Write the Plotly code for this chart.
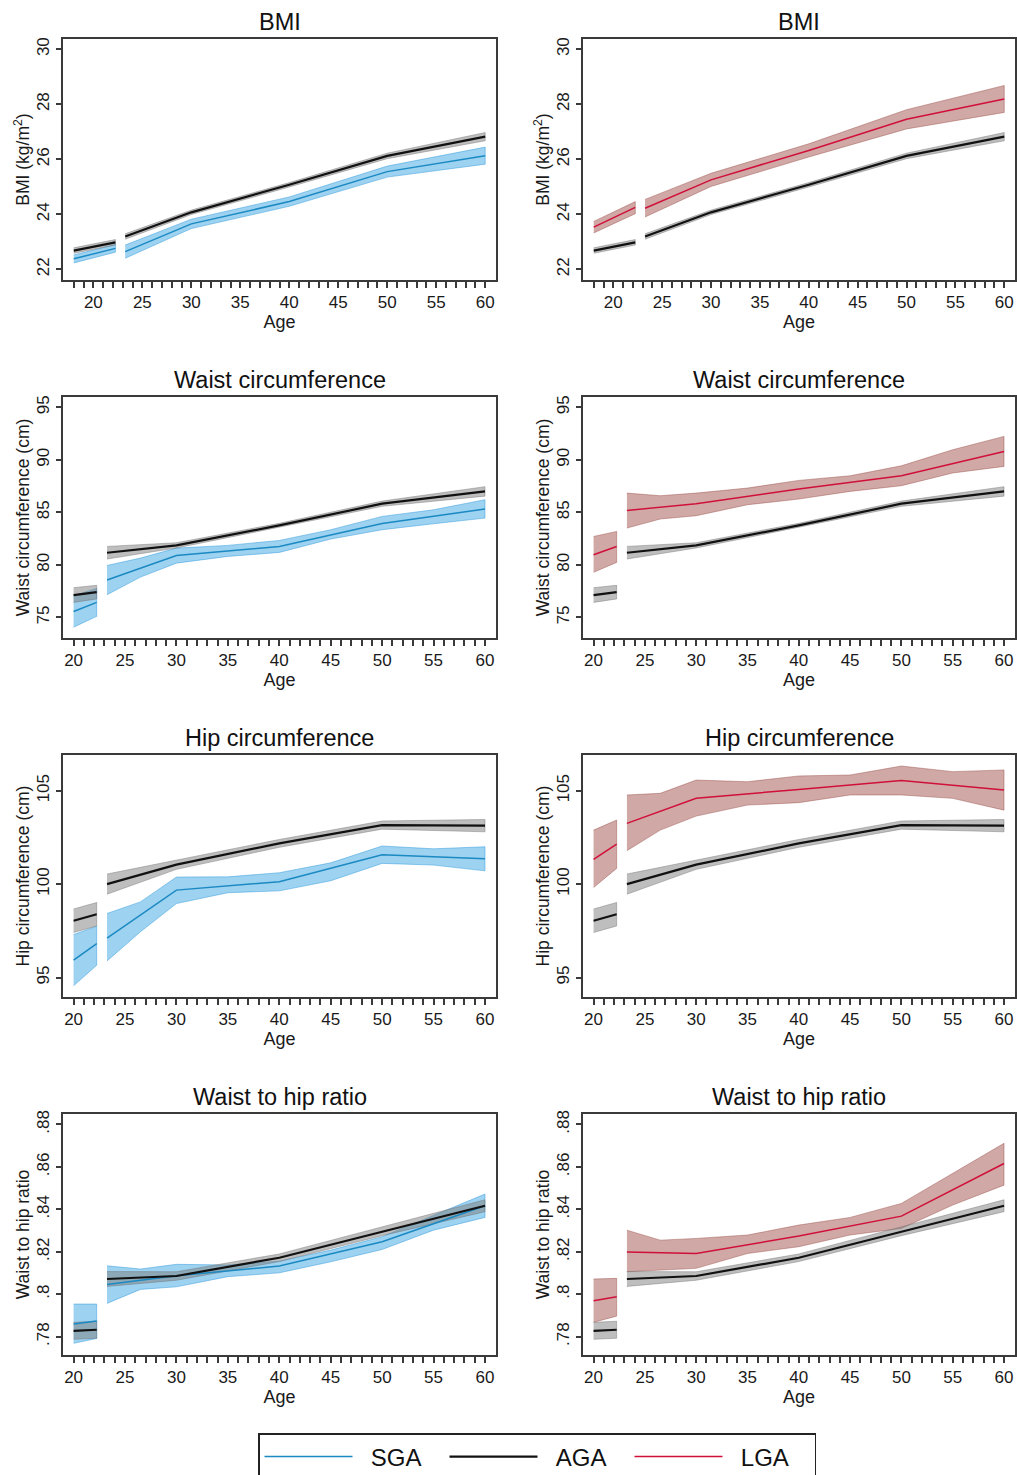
import plotly.graph_objects as go

# ---------------- data ----------------
AGE_SEG1_BMI = [18, 22.25]
AGE_SEG1 = [20, 22.25]
AGE_LINE = [23.25, 30, 40, 50, 60]
AGE_BAND = [23.25, 26.5, 30, 35, 40, 45, 50, 55, 60]

# BMI
BMI_AGA_S1 = [22.68, 22.98]; BMI_AGA_S1_LO = [22.58, 22.88]; BMI_AGA_S1_HI = [22.78, 23.08]
BMI_AGA = [23.19, 24.07, 25.07, 26.12, 26.82]
BMI_AGA_LO = [23.09, 23.99, 24.99, 26.02, 26.67]
BMI_AGA_HI = [23.29, 24.15, 25.15, 26.22, 26.97]
BMI_SGA_S1 = [22.38, 22.76]; BMI_SGA_S1_LO = [22.23, 22.62]; BMI_SGA_S1_HI = [22.52, 22.90]
BMI_SGA = [22.64, 23.65, 24.46, 25.55, 26.13]
BMI_SGA_LO = [22.40, 23.48, 24.29, 25.35, 25.82]
BMI_SGA_HI = [22.88, 23.82, 24.63, 25.75, 26.44]
BMI_LGA_S1 = [23.53, 24.25]; BMI_LGA_S1_LO = [23.32, 24.02]; BMI_LGA_S1_HI = [23.74, 24.46]
BMI_LGA = [24.22, 25.25, 26.32, 27.45, 28.19]
BMI_LGA_LO = [23.90, 25.01, 26.08, 27.10, 27.70]
BMI_LGA_HI = [24.54, 25.49, 26.56, 27.80, 28.68]

# Waist circumference
WC_AGA_S1 = [77.13, 77.41]; WC_AGA_S1_LO = [76.43, 76.76]; WC_AGA_S1_HI = [77.83, 78.06]
WC_AGA = [81.16, 81.86, 83.76, 85.83, 87.0]
WC_AGA_LO = [80.56, 81.61, 83.56, 85.58, 86.55]
WC_AGA_HI = [81.76, 82.11, 83.96, 86.08, 87.45]
WC_SGA_S1 = [75.57, 76.43]; WC_SGA_S1_LO = [74.07, 75.10]; WC_SGA_S1_HI = [77.07, 77.76]
WC_SGA = [78.56, 80.9, 81.76, 83.95, 85.32]
WC_SGA_LO = [77.16, 78.84, 80.17, 80.81, 81.19, 82.46, 83.35, 83.92, 84.46]
WC_SGA_HI = [79.95, 80.65, 81.60, 81.86, 82.33, 83.35, 84.62, 85.25, 86.21]
WC_LGA_S1 = [80.97, 81.76]; WC_LGA_S1_LO = [79.29, 80.24]; WC_LGA_S1_HI = [82.71, 83.19]
WC_LGA = [85.19, 85.83, 87.22, 88.49, 90.81]
WC_LGA_LO = [83.51, 84.37, 84.68, 85.73, 86.27, 87.0, 87.54, 88.75, 89.38]
WC_LGA_HI = [86.84, 86.59, 86.84, 87.32, 88.05, 88.49, 89.44, 90.97, 92.24]

# Hip circumference
HC_AGA_S1 = [98.04, 98.39]; HC_AGA_S1_LO = [97.41, 97.76]; HC_AGA_S1_HI = [98.67, 99.02]
HC_AGA = [100.0, 101.04, 102.18, 103.16, 103.13]
HC_AGA_LO = [99.46, 100.79, 101.97, 102.94, 102.80]
HC_AGA_HI = [100.54, 101.29, 102.39, 103.38, 103.46]
HC_SGA_S1 = [95.93, 96.82]; HC_SGA_S1_LO = [94.56, 95.66]; HC_SGA_S1_HI = [97.30, 97.75]
HC_SGA = [97.11, 99.68, 100.13, 101.57, 101.36]
HC_SGA_LO = [95.89, 97.45, 98.96, 99.54, 99.64, 100.18, 101.11, 101.02, 100.71]
HC_SGA_HI = [98.43, 99.05, 100.38, 100.39, 100.61, 101.14, 102.04, 101.89, 102.0]
HC_LGA_S1 = [101.32, 102.14]; HC_LGA_S1_LO = [99.82, 100.84]; HC_LGA_S1_HI = [102.89, 103.43]
HC_LGA = [103.25, 104.59, 105.07, 105.54, 105.04]
HC_LGA_LO = [101.79, 102.89, 103.64, 104.23, 104.36, 104.77, 104.77, 104.59, 103.96]
HC_LGA_HI = [104.77, 104.86, 105.57, 105.48, 105.79, 105.84, 106.32, 106.02, 106.11]

# Waist to hip ratio
WHR_AGA_S1 = [0.7828, 0.7833]; WHR_AGA_S1_LO = [0.7788, 0.7793]; WHR_AGA_S1_HI = [0.7868, 0.7873]
WHR_AGA = [0.8072, 0.8086, 0.8172, 0.8296, 0.8417]
WHR_AGA_LO = [0.8037, 0.8066, 0.8154, 0.8276, 0.8389]
WHR_AGA_HI = [0.8107, 0.8106, 0.8190, 0.8316, 0.8445]
WHR_SGA_S1 = [0.786, 0.7874]; WHR_SGA_S1_LO = [0.7769, 0.7792]; WHR_SGA_S1_HI = [0.7954, 0.7954]
WHR_SGA = [0.8046, 0.8087, 0.8133, 0.8247, 0.8417]
WHR_SGA_LO = [0.7957, 0.8023, 0.8035, 0.8083, 0.8101, 0.8153, 0.8211, 0.8302, 0.8362]
WHR_SGA_HI = [0.8134, 0.8119, 0.8141, 0.8138, 0.8156, 0.8208, 0.8271, 0.8373, 0.8472]
WHR_LGA_S1 = [0.797, 0.7988]; WHR_LGA_S1_LO = [0.7868, 0.7897]; WHR_LGA_S1_HI = [0.8072, 0.8075]
WHR_LGA = [0.8199, 0.8192, 0.8274, 0.8368, 0.8616]
WHR_LGA_LO = [0.8106, 0.8114, 0.8122, 0.8192, 0.8224, 0.8279, 0.8310, 0.8420, 0.8514]
WHR_LGA_HI = [0.8302, 0.8255, 0.8263, 0.8279, 0.8326, 0.8362, 0.8428, 0.8569, 0.8711]

TITLES = ["BMI", "Waist circumference", "Hip circumference", "Waist to hip ratio"]
YTITLES = ["BMI (kg/m<sup>2</sup>)", "Waist circumference (cm)",
           "Hip circumference (cm)", "Waist to hip ratio"]
YTICKS = [[22, 24, 26, 28, 30], [75, 80, 85, 90, 95], [95, 100, 105],
          [0.78, 0.80, 0.82, 0.84, 0.86, 0.88]]
YTICKTEXT = [["22", "24", "26", "28", "30"], ["75", "80", "85", "90", "95"],
             ["95", "100", "105"], [".78", ".8", ".82", ".84", ".86", ".88"]]
XLABELS = [20, 25, 30, 35, 40, 45, 50, 55, 60]
GROUPS = ["SGA", "AGA", "LGA"]

# ---------------- styles ----------------
FONT = "Liberation Sans, Arial, sans-serif"
COL = {
    "SGA": dict(line="#1b89c2", fill="rgba(60,165,228,0.50)", edge="rgba(40,150,220,0.65)", width=1.5),
    "AGA": dict(line="#111111", fill="rgba(125,125,125,0.50)", edge="rgba(110,110,110,0.6)", width=2.2),
    "LGA": dict(line="#d0103a", fill="rgba(150,62,55,0.45)", edge="rgba(140,55,50,0.55)", width=1.5),
}
FRAME = "#3a3a3a"
TXT = "#1a1a1a"

W, H = 1017, 1475
XDOM = [[63 / W, 496 / W], [583 / W, 1015 / W]]
YPIX = [(39, 280), (397, 638), (755, 997), (1114, 1355)]
YDOM = [[1 - b / H, 1 - t / H] for t, b in YPIX]
YRANGES = [[21.61, 30.37], [73.04, 95.99], [93.96, 106.91], [0.7714, 0.8849]]
XRANGES = [[16.9, 61.1], [18.97, 61.07], [18.97, 61.07], [18.97, 61.07]]

panels = [
    (0, 0, AGE_SEG1_BMI, [("SGA", BMI_SGA_S1, BMI_SGA_S1_LO, BMI_SGA_S1_HI, BMI_SGA, AGE_LINE, BMI_SGA_LO, BMI_SGA_HI),
                          ("AGA", BMI_AGA_S1, BMI_AGA_S1_LO, BMI_AGA_S1_HI, BMI_AGA, AGE_LINE, BMI_AGA_LO, BMI_AGA_HI)]),
    (0, 1, AGE_SEG1_BMI, [("LGA", BMI_LGA_S1, BMI_LGA_S1_LO, BMI_LGA_S1_HI, BMI_LGA, AGE_LINE, BMI_LGA_LO, BMI_LGA_HI),
                          ("AGA", BMI_AGA_S1, BMI_AGA_S1_LO, BMI_AGA_S1_HI, BMI_AGA, AGE_LINE, BMI_AGA_LO, BMI_AGA_HI)]),
    (1, 0, AGE_SEG1, [("SGA", WC_SGA_S1, WC_SGA_S1_LO, WC_SGA_S1_HI, WC_SGA, AGE_BAND, WC_SGA_LO, WC_SGA_HI),
                      ("AGA", WC_AGA_S1, WC_AGA_S1_LO, WC_AGA_S1_HI, WC_AGA, AGE_LINE, WC_AGA_LO, WC_AGA_HI)]),
    (1, 1, AGE_SEG1, [("LGA", WC_LGA_S1, WC_LGA_S1_LO, WC_LGA_S1_HI, WC_LGA, AGE_BAND, WC_LGA_LO, WC_LGA_HI),
                      ("AGA", WC_AGA_S1, WC_AGA_S1_LO, WC_AGA_S1_HI, WC_AGA, AGE_LINE, WC_AGA_LO, WC_AGA_HI)]),
    (2, 0, AGE_SEG1, [("SGA", HC_SGA_S1, HC_SGA_S1_LO, HC_SGA_S1_HI, HC_SGA, AGE_BAND, HC_SGA_LO, HC_SGA_HI),
                      ("AGA", HC_AGA_S1, HC_AGA_S1_LO, HC_AGA_S1_HI, HC_AGA, AGE_LINE, HC_AGA_LO, HC_AGA_HI)]),
    (2, 1, AGE_SEG1, [("LGA", HC_LGA_S1, HC_LGA_S1_LO, HC_LGA_S1_HI, HC_LGA, AGE_BAND, HC_LGA_LO, HC_LGA_HI),
                      ("AGA", HC_AGA_S1, HC_AGA_S1_LO, HC_AGA_S1_HI, HC_AGA, AGE_LINE, HC_AGA_LO, HC_AGA_HI)]),
    (3, 0, AGE_SEG1, [("SGA", WHR_SGA_S1, WHR_SGA_S1_LO, WHR_SGA_S1_HI, WHR_SGA, AGE_BAND, WHR_SGA_LO, WHR_SGA_HI),
                      ("AGA", WHR_AGA_S1, WHR_AGA_S1_LO, WHR_AGA_S1_HI, WHR_AGA, AGE_LINE, WHR_AGA_LO, WHR_AGA_HI)]),
    (3, 1, AGE_SEG1, [("LGA", WHR_LGA_S1, WHR_LGA_S1_LO, WHR_LGA_S1_HI, WHR_LGA, AGE_BAND, WHR_LGA_LO, WHR_LGA_HI),
                      ("AGA", WHR_AGA_S1, WHR_AGA_S1_LO, WHR_AGA_S1_HI, WHR_AGA, AGE_LINE, WHR_AGA_LO, WHR_AGA_HI)]),
]

fig = go.Figure()
layout = {}
annotations = []
legend_done = set()


def band(xs, lo, hi, grp, xa, ya):
    c = COL[grp]
    fig.add_trace(go.Scatter(
        x=list(xs) + list(xs)[::-1], y=list(hi) + list(lo)[::-1],
        mode="lines", fill="toself", fillcolor=c["fill"],
        line=dict(color=c["edge"], width=0.7), hoverinfo="skip",
        showlegend=False, xaxis=xa, yaxis=ya))


def line(xs, ys, grp, xa, ya):
    c = COL[grp]
    show = grp not in legend_done
    legend_done.add(grp)
    fig.add_trace(go.Scatter(
        x=xs, y=ys, mode="lines", name="\u00a0\u00a0" + grp,
        line=dict(color=c["line"], width=c["width"]),
        showlegend=show, legendrank=GROUPS.index(grp) + 1, legendgroup=grp,
        xaxis=xa, yaxis=ya))


for k, (r, c, seg1, series) in enumerate(panels):
    idx = k + 1
    xa = "x" if idx == 1 else f"x{idx}"
    ya = "y" if idx == 1 else f"y{idx}"
    for grp, s1, s1lo, s1hi, ln, bages, lo, hi in series:
        band(seg1, s1lo, s1hi, grp, xa, ya)
        band(bages, lo, hi, grp, xa, ya)
    for grp, s1, s1lo, s1hi, ln, bages, lo, hi in series:
        line(seg1, s1, grp, xa, ya)
        line(AGE_LINE, ln, grp, xa, ya)

    xstart = int(seg1[0])
    layout["xaxis" if idx == 1 else f"xaxis{idx}"] = dict(
        domain=XDOM[c], anchor=ya, range=XRANGES[r], automargin=False,
        tickmode="array", tickvals=XLABELS, ticktext=[str(v) for v in XLABELS],
        ticks="outside", ticklen=6, tickwidth=1.5, tickcolor=FRAME,
        minor=dict(tickmode="array", tickvals=list(range(xstart, 61)),
                   ticks="outside", ticklen=6, tickwidth=1.5, tickcolor=FRAME,
                   showgrid=False),
        showline=True, linecolor=FRAME, linewidth=1.5, mirror=True,
        showgrid=False, zeroline=False, tickangle=0,
        tickfont=dict(family=FONT, size=17, color=TXT),
        title=dict(text="Age", font=dict(family=FONT, size=18, color=TXT), standoff=0),
    )
    layout["yaxis" if idx == 1 else f"yaxis{idx}"] = dict(
        domain=YDOM[r], anchor=xa, range=YRANGES[r], automargin=False,
        tickmode="array", tickvals=YTICKS[r], ticktext=YTICKTEXT[r],
        ticks="outside", ticklen=5, tickwidth=1.5, tickcolor=FRAME,
        showline=True, linecolor=FRAME, linewidth=1.5, mirror=True,
        showgrid=False, zeroline=False, tickangle=-90,
        tickfont=dict(family=FONT, size=17, color=TXT),
        title=dict(text=YTITLES[r], font=dict(family=FONT, size=17.5, color=TXT), standoff=0),
    )
    annotations.append(dict(
        text=TITLES[r], xref="paper", yref="paper",
        x=(XDOM[c][0] + XDOM[c][1]) / 2, y=YDOM[r][1] + 17 / H,
        xanchor="center", yanchor="middle", showarrow=False,
        font=dict(family=FONT, size=23.5, color="#111111")))

fig.update_layout(
    width=W, height=H,
    margin=dict(l=0, r=0, t=0, b=0, autoexpand=False),
    paper_bgcolor="white", plot_bgcolor="white",
    annotations=annotations,
    showlegend=True,
    legend=dict(
        orientation="h", x=258 / W, xanchor="left", y=1 - 1433 / H, yanchor="top",
        bordercolor="#222222", borderwidth=1.5, bgcolor="white",
        font=dict(family=FONT, size=24, color="#111111"),
        entrywidth=82, entrywidthmode="pixels", itemwidth=88,
        traceorder="normal",
    ),
    **layout,
)

fig.write_html(
    "out.html",
    config={"displayModeBar": False},
    post_script="document.body.style.margin='0px';document.body.style.padding='0px';"
                "document.body.style.overflow='hidden';",
)
